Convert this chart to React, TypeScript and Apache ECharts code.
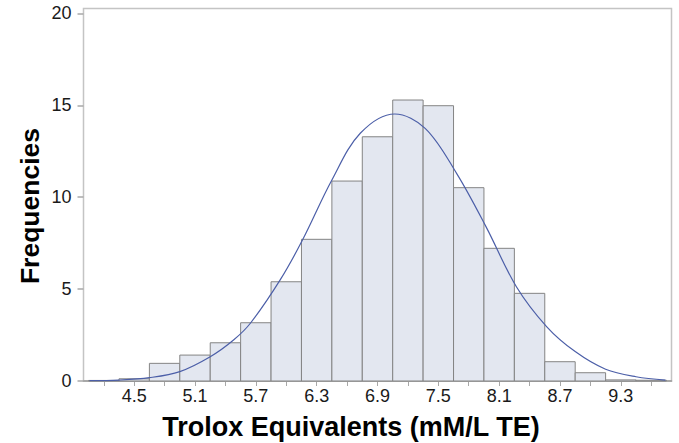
import React, { useEffect, useRef } from "react";
import * as echarts from "echarts";

const binCenters = [4.2, 4.5, 4.8, 5.1, 5.4, 5.7, 6.0, 6.3, 6.6, 6.9, 7.2, 7.5, 7.8, 8.1, 8.4, 8.7, 9.0, 9.3, 9.6];
const binValues = [0.03, 0.12, 0.96, 1.41, 2.08, 3.17, 5.4, 7.71, 10.88, 13.29, 15.29, 14.98, 10.52, 7.22, 4.77, 1.05, 0.45, 0.06, 0.04];
const binWidth = 0.3;

const curveX = [4.06, 4.35, 4.65, 4.95, 5.25, 5.48, 5.65, 5.94, 6.16, 6.45, 6.73, 7.07, 7.37, 7.68, 7.97, 8.27, 8.57, 8.85, 9.15, 9.45, 9.74];
const curveY = [0.02, 0.05, 0.18, 0.51, 1.32, 2.23, 3.17, 5.5, 7.67, 10.94, 13.48, 14.53, 13.75, 11.3, 8.4, 5.13, 2.95, 1.6, 0.64, 0.23, 0.05];

const xTicks = [4.2, 4.5, 4.8, 5.1, 5.4, 5.7, 6.0, 6.3, 6.6, 6.9, 7.2, 7.5, 7.8, 8.1, 8.4, 8.7, 9.0, 9.3, 9.6];
const xLabels = [4.5, 5.1, 5.7, 6.3, 6.9, 7.5, 8.1, 8.7, 9.3];
const yTicks = [0, 5, 10, 15, 20];

const xTitle = "Trolox Equivalents (mM/L TE)";
const yTitle = "Frequencies";

export default function App() {
  const ref = useRef<HTMLDivElement>(null);
  useEffect(() => {
    if (!ref.current) return;
    const chart = echarts.init(ref.current, undefined, { renderer: "svg" });
    const font = "'Liberation Sans', Arial, sans-serif";
    chart.setOption({
      animation: false,
      backgroundColor: "#ffffff",
      grid: {
        left: 83.5,
        right: 7.5,
        top: 8.5,
        bottom: 62,
        show: true,
        borderColor: "#c4c4c4",
        borderWidth: 1.5,
        backgroundColor: "transparent",
      },
      xAxis: {
        type: "value",
        min: 4.0,
        max: 9.8,
        splitLine: { show: false },
        axisLine: { show: true, onZero: false, lineStyle: { color: "#9a9a9a", width: 1.5 } },
        axisTick: {
          show: true,
          customValues: xTicks,
          length: 5,
          inside: false,
          lineStyle: { color: "#a8a8a8", width: 1 },
        },
        axisLabel: {
          customValues: xLabels,
          formatter: (v: number) => v.toFixed(1),
          fontFamily: font,
          fontSize: 18,
          color: "#1a1a1a",
          margin: 6,
        },
      },
      yAxis: {
        type: "value",
        min: 0,
        max: 20.27,
        splitLine: { show: false },
        axisLine: { show: false },
        axisTick: {
          show: true,
          customValues: yTicks,
          length: 6,
          lineStyle: { color: "#a8a8a8", width: 1.5 },
        },
        axisLabel: {
          customValues: yTicks,
          fontFamily: font,
          fontSize: 18,
          color: "#1a1a1a",
          margin: 12,
        },
      },
      series: [
        {
          type: "custom",
          data: binCenters.map((c, i) => [c, binValues[i]]),
          renderItem: (params: any, api: any) => {
            const c = api.value(0);
            const v = api.value(1);
            const p0 = api.coord([c - binWidth / 2, v]);
            const p1 = api.coord([c + binWidth / 2, 0]);
            return {
              type: "rect",
              shape: { x: p0[0], y: p0[1], width: p1[0] - p0[0], height: p1[1] - p0[1] },
              style: { fill: "#e3e7f0", stroke: "#848484", lineWidth: 1 },
            };
          },
          z: 2,
        },
        {
          type: "line",
          data: curveX.map((x, i) => [x, curveY[i]]),
          smooth: 0.35,
          showSymbol: false,
          symbol: "none",
          lineStyle: { color: "#4c5fa8", width: 1.2 },
          z: 3,
        },
      ],
      graphic: [
        {
          type: "text",
          x: 351,
          y: 427,
          style: {
            text: xTitle,
            fontFamily: font,
            fontWeight: "bold",
            fontSize: 27,
            fill: "#000000",
            textAlign: "center",
            textVerticalAlign: "middle",
          },
        },
        {
          type: "text",
          x: 30,
          y: 206,
          rotation: Math.PI / 2,
          style: {
            text: yTitle,
            fontFamily: font,
            fontWeight: "bold",
            fontSize: 26.5,
            fill: "#000000",
            textAlign: "center",
            textVerticalAlign: "middle",
          },
        },
      ],
    });
    return () => chart.dispose();
  }, []);
  return <div ref={ref} style={{ width: 679, height: 443, position: "absolute", left: 0, top: 0 }} />;
}
